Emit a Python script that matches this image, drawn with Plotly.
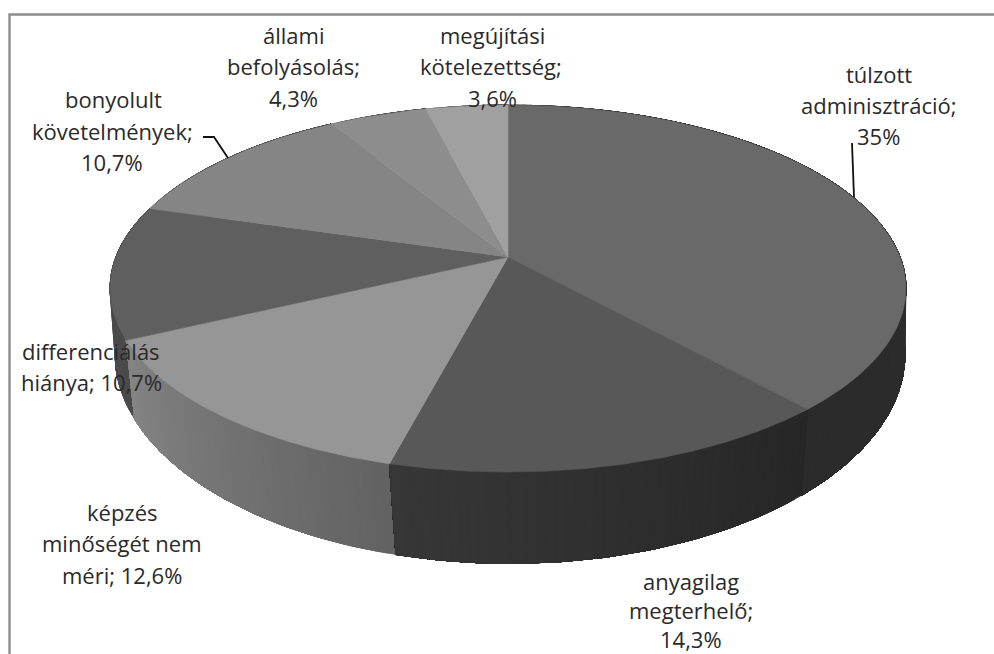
import numpy as np
import plotly.graph_objects as go

# --- data ---
categories = ["túlzott adminisztráció", "anyagilag megterhelő", "képzés minőségét nem méri",
              "differenciálás hiánya", "bonyolult követelmények", "állami befolyásolás",
              "megújítási kötelezettség"]
values = [35, 14.3, 12.6, 10.7, 10.7, 4.3, 3.6]
label_lines = [["túlzott", "adminisztráció;", "35%"],
               ["anyagilag", "megterhelő;", "14,3%"],
               ["képzés", "minőségét nem", "méri; 12,6%"],
               ["differenciálás", "hiánya; 10,7%"],
               ["bonyolult", "követelmények;", "10,7%"],
               ["állami", "befolyásolás;", "4,3%"],
               ["megújítási", "kötelezettség;", "3,6%"]]

# --- styles ---
top_grey = [0x69, 0x58, 0x96, 0x5f, 0x85, 0x8d, 0xa0]
side_grey = [(0x2e, 0x2b), (0x26, 0x37), (0x62, 0x84), (0x4a, 0x4a), (0x40, 0x40), (0x45, 0x45), (0x50, 0x50)]
label_pos = [[(879, 74), (879, 105), (878, 136)],
             [(691, 581), (691, 610), (691, 639)],
             [(122, 512), (122, 543), (122, 575)],
             [(91, 351), (91, 382)],
             [(113, 99), (112, 131), (112, 162)],
             [(293, 35), (293, 66), (293, 98)],
             [(492, 35), (491, 66), (492, 98)]]


def project(t, cx, cy, b, a, k):
    """Perspective view of a unit circle; t is clockwise from the back of the pie."""
    u, v = np.sin(t), -np.cos(t)
    d = 1 - k * v
    return cx + b * u / d, cy + a * v / d


TOP = (508, 257, 392, 178.1, 0.1717)
BOTTOM = (510, 325, 391, 205, 0.14)


def grey(g):
    g = int(round(g))
    return f"rgb({g},{g},{g})"


edges = np.radians(np.concatenate([[0], np.cumsum(values)]) / np.sum(values) * 360)
fig = go.Figure()


def poly(x, y, colour, width=0.6):
    fig.add_trace(go.Scatter(x=x, y=y, mode="lines", fill="toself", fillcolor=colour,
                             line=dict(color=colour, width=width), hoverinfo="skip", showlegend=False))


# side wall: each slice is painted from its far end over a shrinking run of angle,
# so that neighbouring grey steps overlap and leave no seams
for i in sorted(range(len(values)), key=lambda s: -np.cos((edges[s] + edges[s + 1]) / 2)):
    n = max(1, int(np.degrees(edges[i + 1] - edges[i]) / 1.2))
    ts = np.linspace(edges[i], edges[i + 1], n + 1)
    for j in range(n):
        g = side_grey[i][0] + (side_grey[i][1] - side_grey[i][0]) * (j + 0.5) / n
        seg = np.linspace(ts[j], edges[i + 1], max(2, (n - j) + 1))
        xt, yt = project(seg, *TOP)
        xb, yb = project(seg[::-1], *BOTTOM)
        poly(np.r_[xt, xb, xt[0]], np.r_[yt, yb, yt[0]], grey(g), width=0.8)

# top face
for i in range(len(values)):
    ts = np.linspace(edges[i], edges[i + 1], 120)
    x, y = project(ts, *TOP)
    poly(np.r_[TOP[0], x, TOP[0]], np.r_[TOP[1], y, TOP[1]], grey(top_grey[i]))

annotations = []
for lines, pos in zip(label_lines, label_pos):
    for line, (x, y) in zip(lines, pos):
        annotations.append(dict(x=x, y=y, xref="x", yref="y", text=line, showarrow=False,
                                xanchor="center", yanchor="middle",
                                font=dict(family="Open Sans", size=22, color="#2a2a2a")))

frame = dict(type="path", path="M 9.5 654 L 9.5 14.5 L 994 14.5", line=dict(color="#8c8c8c", width=2.4))
lead1 = dict(type="path", path="M 203 137 L 214 137 L 228 158", line=dict(color="#111111", width=1.8))
lead2 = dict(type="path", path="M 852 143 L 854 197", line=dict(color="#111111", width=1.8))

fig.update_layout(width=994, height=654, margin=dict(l=0, r=0, t=0, b=0),
                  paper_bgcolor="white", plot_bgcolor="white", showlegend=False,
                  xaxis=dict(range=[0, 994], visible=False, fixedrange=True),
                  yaxis=dict(range=[654, 0], visible=False, fixedrange=True),
                  shapes=[frame, lead1, lead2], annotations=annotations)

fig.write_html("out.html", config={"displayModeBar": False},
               post_script="document.body.style.margin='0';document.body.style.overflow='hidden';")
